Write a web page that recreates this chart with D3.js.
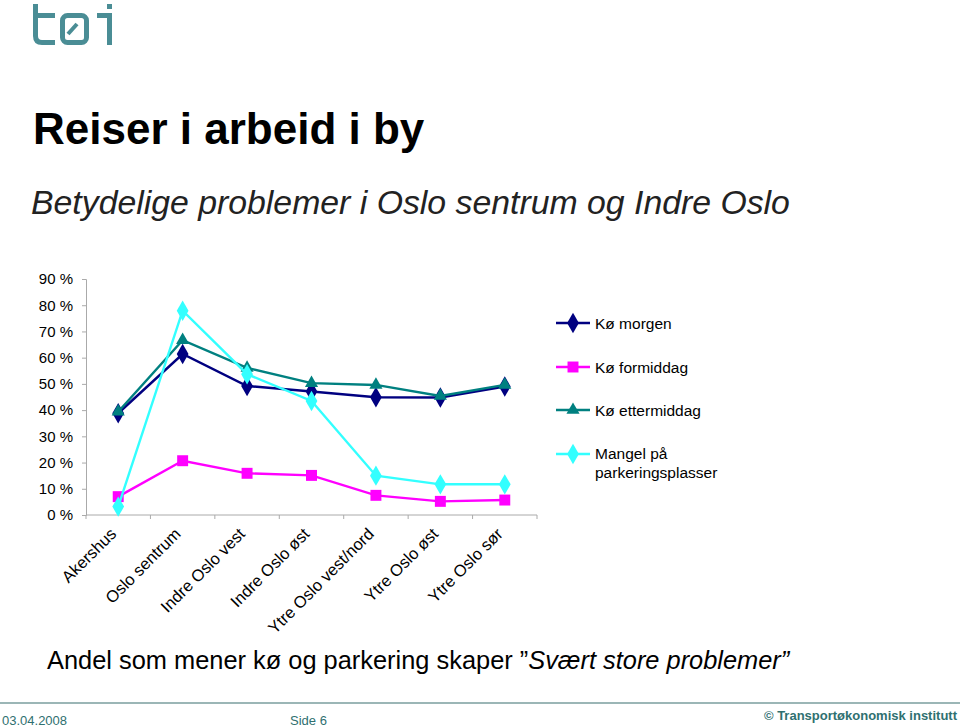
<!DOCTYPE html>
<html><head><meta charset="utf-8">
<script src="https://cdn.jsdelivr.net/npm/d3@7"></script>
<style>body{margin:0;background:#fff}svg{display:block}text{font-family:"Liberation Sans",Arial,sans-serif}</style>
</head><body><svg id="c" width="960" height="727"></svg>
<script>
const categories = ["Akershus","Oslo sentrum","Indre Oslo vest","Indre Oslo øst","Ytre Oslo vest/nord","Ytre Oslo øst","Ytre Oslo sør"];
const koMorgen = [38.8, 61.4, 49.2, 47.1, 44.9, 44.8, 49.0];
const koFormiddag = [7.0, 20.7, 15.9, 15.1, 7.5, 5.2, 5.7];
const koEttermiddag = [39.4, 66.7, 56.1, 50.3, 49.6, 45.4, 49.6];
const mangelParkering = [3.2, 77.9, 53.7, 43.5, 15.0, 11.7, 11.7];
const seriesNames = ["Kø morgen","Kø formiddag","Kø ettermiddag","Mangel på parkeringsplasser"];
const yTicks = [0,10,20,30,40,50,60,70,80,90];

const svg = d3.select("#c");
// logo drawn as strokes
const logo = svg.append("g").attr("fill","none").attr("stroke","#4a8d95").attr("stroke-width",5).attr("stroke-linecap","butt");
logo.append("title").text("tøi");
logo.append("path").attr("d","M35.5,4 V36 Q35.5,42.5 42,42.5 H55");
logo.append("path").attr("d","M33,15.5 H55");
logo.append("rect").attr("x",62.5).attr("y",15.5).attr("width",24).attr("height",27).attr("rx",5);
logo.append("path").attr("d","M68,34 L77,24").attr("stroke-width",4);
logo.append("path").attr("d","M97,15.5 H109.5 V45");
logo.append("rect").attr("x",107).attr("y",4).attr("width",5).attr("height",5).attr("fill","#4a8d95").attr("stroke","none");

svg.append("text").attr("x",33).attr("y",144).attr("font-size",44).attr("font-weight","bold").text("Reiser i arbeid i by");
svg.append("text").attr("x",31).attr("y",214).attr("font-size",33.8).attr("font-style","italic").attr("fill","#222").text("Betydelige problemer i Oslo sentrum og Indre Oslo");

const x = d3.scaleBand().domain(categories).range([86,537]);
const y = d3.scaleLinear().domain([0,90]).range([515,279]);

const ax = d3.axisLeft(y).tickValues(yTicks).tickFormat(d=>d+" %").tickSize(4).tickPadding(9);
const gy = svg.append("g").attr("transform","translate(86,0)").call(ax);
gy.select(".domain").attr("stroke","#aaa");
gy.selectAll(".tick line").attr("stroke","#aaa");
gy.selectAll("text").attr("font-size",15).attr("fill","#000").attr("font-family","Liberation Sans, Arial, sans-serif");

const gx = svg.append("g").attr("transform","translate(0,515)");
gx.append("line").attr("x1",86).attr("x2",537).attr("stroke","#aaa");
categories.concat([null]).forEach((c,i)=>{
  const xx = c===null ? x.range()[1] : x(c);
  gx.append("line").attr("x1",xx).attr("x2",xx).attr("y1",0).attr("y2",4).attr("stroke","#aaa");
});
categories.forEach(c=>{
  const cx = x(c)+x.bandwidth()/2;
  gx.append("text").attr("transform",`translate(${cx-1},${20}) rotate(-45)`).attr("text-anchor","end")
    .attr("font-size",16.5).text(c);
});

const colors = ["#000080","#ff00ff","#008080","#33ffff"];
const shapes = [d3.symbolDiamond, d3.symbolSquare, d3.symbolTriangle, d3.symbolDiamond];
const sizes = [120, 120, 75, 120];
const data = [koMorgen, koFormiddag, koEttermiddag, mangelParkering];
const line = d3.line().x((d,i)=>x(categories[i])+x.bandwidth()/2).y(d=>y(d));

data.forEach((vals,k)=>{
  svg.append("path").datum(vals).attr("d",line).attr("fill","none").attr("stroke",colors[k]).attr("stroke-width",2.4);
  svg.selectAll(null).data(vals).enter().append("path")
    .attr("transform",(d,i)=>`translate(${x(categories[i])+x.bandwidth()/2},${y(d)})`)
    .attr("d",d3.symbol().type(shapes[k]).size(sizes[k])).attr("fill",colors[k]);
});

// legend
const legY = [323,367,410,454];
seriesNames.forEach((n,k)=>{
  const g = svg.append("g").attr("transform",`translate(556,${legY[k]})`);
  g.append("line").attr("x1",0).attr("x2",34).attr("stroke",colors[k]).attr("stroke-width",2.4);
  g.append("path").attr("transform","translate(17,0)").attr("d",d3.symbol().type(shapes[k]).size(sizes[k])).attr("fill",colors[k]);
  if(k===3){
    g.append("text").attr("x",39).attr("y",5).attr("font-size",15.5).text("Mangel på");
    g.append("text").attr("x",39).attr("y",24).attr("font-size",15.5).text("parkeringsplasser");
  } else {
    g.append("text").attr("x",39).attr("y",6).attr("font-size",15.5).text(n);
  }
});

const bt = svg.append("text").attr("x",47).attr("y",669).attr("font-size",25.4);
bt.append("tspan").text("Andel som mener kø og parkering skaper ”");
bt.append("tspan").attr("font-style","italic").text("Svært store problemer”");

svg.append("line").attr("x1",0).attr("x2",960).attr("y1",703).attr("y2",703).attr("stroke","#7a9e9e").attr("stroke-width",1.5);
svg.append("text").attr("x",2).attr("y",725).attr("font-size",13).attr("fill","#2f7070").text("03.04.2008");
svg.append("text").attr("x",290).attr("y",725).attr("font-size",13).attr("fill","#2f7070").text("Side 6");
svg.append("text").attr("x",957).attr("y",720).attr("text-anchor","end").attr("font-size",13).attr("font-weight","bold").attr("fill","#2f7070").text("© Transportøkonomisk institutt");
</script></body></html>
